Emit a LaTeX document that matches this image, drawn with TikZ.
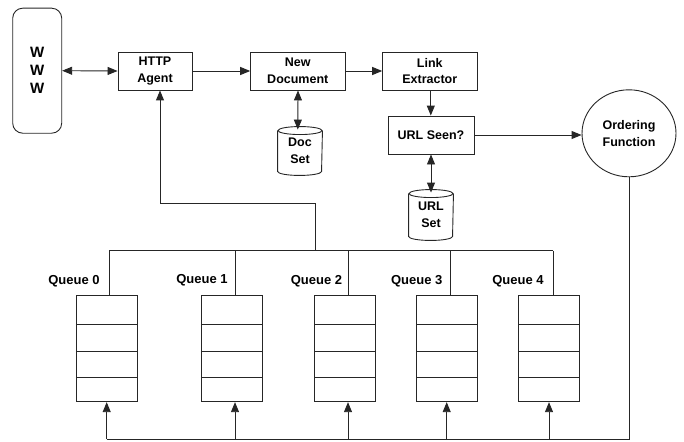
\documentclass[tikz,border=0pt]{standalone}
\usepackage{fontspec}
\setmainfont{Liberation Sans}
\usetikzlibrary{arrows.meta,calc,shapes.geometric}
\begin{document}
\begin{tikzpicture}[x=1pt,y=-1pt,
  line width=0.9pt, draw=black!85,
  arr/.style={-{Triangle[length=10pt,width=8pt]}},
  darr/.style={{Triangle[length=10pt,width=8pt]}-{Triangle[length=10pt,width=8pt]}},
  txt/.style={font=\fontsize{12.5}{16.5}\selectfont\bfseries, align=center},
  box/.style={txt, draw, rectangle, inner sep=0pt},
  cyl/.style={txt, rectangle, inner sep=0pt, minimum width=44pt},
  queue/.style={draw, rectangle, inner sep=0pt, minimum width=61pt, minimum height=106.7pt},
  qlbl/.style={font=\fontsize{13}{15}\selectfont\bfseries}]
\useasboundingbox (0,0) rectangle (684,441);

% main boxes
\node[box, rounded corners=10pt, minimum width=49pt, minimum height=125pt,
      font=\fontsize{15}{18}\selectfont\bfseries] (www) at (37.2,70.7) {W\\W\\W};
\node[box, minimum width=74pt, minimum height=38pt] (http) at (155,71) {HTTP\\Agent};
\node[box, minimum width=94.3pt, minimum height=38pt] (nd) at (297.8,71) {New\\Document};
\node[box, minimum width=94.3pt, minimum height=38pt] (le) at (429.8,71) {Link\\Extractor};
\node[box, minimum width=86pt, minimum height=38pt] (us) at (431,135) {URL Seen?};
\node[txt, draw, ellipse, inner sep=0pt, minimum width=94pt, minimum height=87pt] (of) at (629,133.3) {Ordering\\Function};

% cylinders
\node[cyl, minimum height=48pt] (ds) at (300,151) {Doc\\Set};
\node[cyl, minimum height=50pt] (uset) at (431,215) {URL\\Set};
\foreach \c in {ds,uset}{
  \draw ($(\c.north west)+(0,4)$) -- ($(\c.south west)+(0,-4)$)
        arc[start angle=180,end angle=360,x radius=22pt,y radius=4pt]
        -- ($(\c.north east)+(0,4)$);
  \draw ($(\c.north)+(0,4)$) ellipse[x radius=22pt,y radius=4pt];
}

% queues
\foreach \i/\x/\lx/\ly in {0/106.8/74/281,1/231.7/202/280,2/345.2/316.5/281,3/447.2/416.7/281,4/549.2/518/281}{
  \node[queue] (q\i) at (\x,348.35) {};
  \draw ($(q\i.north west)+(0,30.3)$) -- ($(q\i.north east)+(0,30.3)$);
  \draw ($(q\i.north west)+(0,56.7)$) -- ($(q\i.north east)+(0,56.7)$);
  \draw ($(q\i.north west)+(0,83.3)$) -- ($(q\i.north east)+(0,83.3)$);
  \node[qlbl] (ql\i) at (\lx,\ly) {Queue \i};
}

% top connectors
\draw[darr] (www.east) -- (http.west);
\draw[arr] (http) -- (nd);
\draw[arr] (nd) -- (le);
\draw[darr] ([xshift=0.2pt]nd.south) -- ($(nd.south |- ds.north)+(0,3)$);
\draw[arr] ([xshift=1pt]le.south) -- ([xshift=1pt]le.south |- us.north);
\draw[arr] (us.east) -- (us.east -| of.west);
\draw[darr] (us.south) -- ($(us.south |- uset.north)+(0,3)$);

% bus to queues and HTTP agent
\coordinate (j) at (315,203);
\coordinate (bj) at (315,250.7);
\draw[arr] (bj) -- (j) -| ([xshift=5pt]http.south);
\foreach \i/\x in {0/109,1/235.7,2/348,3/450.7,4/553}{
  \coordinate (t\i) at (\x,250.7);
  \draw (t\i) -- (t\i |- q\i.north);
}
\draw (t0) -- (t4);

% feedback from ordering function
\coordinate (bR) at (629,439.3);
\draw (of.south) -- (bR) -- (bR -| 106.7,0);
\foreach \i/\x in {0/106.7,1/235,2/348,3/446.7,4/549}{
  \coordinate (b\i) at (\x,439.3);
  \draw[arr] (b\i) -- (b\i |- q\i.south);
}
\end{tikzpicture}
\end{document}
